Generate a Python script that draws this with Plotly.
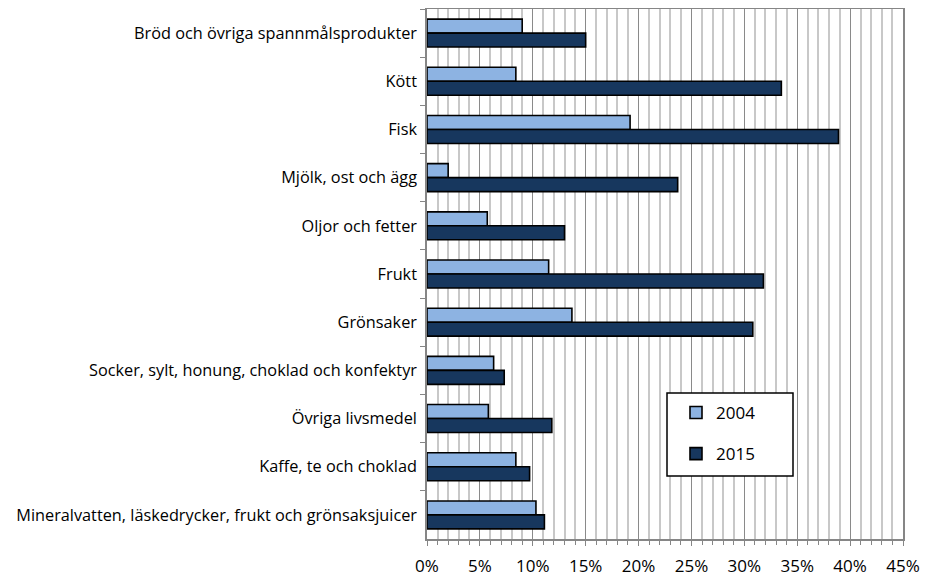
import plotly.graph_objects as go

categories = [
    "Bröd och övriga spannmålsprodukter",
    "Kött",
    "Fisk",
    "Mjölk, ost och ägg",
    "Oljor och fetter",
    "Frukt",
    "Grönsaker",
    "Socker, sylt, honung, choklad och konfektyr",
    "Övriga livsmedel",
    "Kaffe, te och choklad",
    "Mineralvatten, läskedrycker, frukt och grönsaksjuicer",
]
share_2004 = [9.0, 8.4, 19.2, 2.0, 5.7, 11.5, 13.7, 6.3, 5.8, 8.4, 10.3]
share_2015 = [15.0, 33.5, 38.9, 23.7, 13.0, 31.8, 30.8, 7.3, 11.8, 9.7, 11.1]

FONT = "Open Sans"
PAD = 8                     # browser's default body margin
W, H = 932 - PAD, 579 - PAD
M = dict(l=427 - PAD, r=29, t=9 - PAD, b=40)

fig = go.Figure()
fig.add_trace(go.Bar(y=categories, x=share_2004, name="2004", orientation="h",
                     legendgroup="a", marker=dict(color="#8DB3E2",
                     line=dict(color="black", width=1.6))))
fig.add_trace(go.Bar(y=categories, x=share_2015, name="2015", orientation="h",
                     legendgroup="b", marker=dict(color="#17375E",
                     line=dict(color="black", width=1.6))))

# legend frame, page pixels -> plot-area (paper) units
pw, ph = W - M["l"] - M["r"], H - M["t"] - M["b"]
def px(x): return (x - PAD - M["l"]) / pw
def py(y): return (H - M["b"] - (y - PAD)) / ph

fig.add_shape(type="rect", xref="paper", yref="paper",
              x0=px(667), x1=px(793), y0=py(476), y1=py(393),
              line=dict(color="black", width=1.5), fillcolor="white", layer="above")

fig.update_layout(
    width=W, height=H, margin=M,
    barmode="group", bargap=0.42, bargroupgap=0,
    plot_bgcolor="white", paper_bgcolor="white",
    font=dict(family=FONT, size=14, color="black"),
    showlegend=True,
    legend=dict(x=px(676), y=py(395), xanchor="left", yanchor="top",
                bgcolor="rgba(0,0,0,0)", borderwidth=0,
                font=dict(size=17), traceorder="grouped", tracegroupgap=16),
    xaxis=dict(range=[0, 45], dtick=5, ticksuffix="%", showgrid=True,
               gridcolor="#8a8a8a", gridwidth=1.3,
               minor=dict(dtick=1, showgrid=True, gridcolor="#c8c8c8", gridwidth=2,
                          ticks="outside", ticklen=4, tickcolor="#868686"),
               ticks="outside", ticklen=5, tickcolor="#868686",
               showline=True, linecolor="#868686", linewidth=1.5, mirror=True,
               tickfont=dict(size=17), ticklabelstandoff=6, zeroline=False,
               fixedrange=True, automargin=False),
    yaxis=dict(autorange="reversed", showline=True, linecolor="#868686", linewidth=1.5,
               mirror=True, ticks="outside", tickson="boundaries", ticklen=5,
               tickcolor="#868686", showgrid=False, ticklabelstandoff=5,
               tickfont=dict(size=16.3), fixedrange=True, automargin=False),
)

fig.write_html("out.html")
